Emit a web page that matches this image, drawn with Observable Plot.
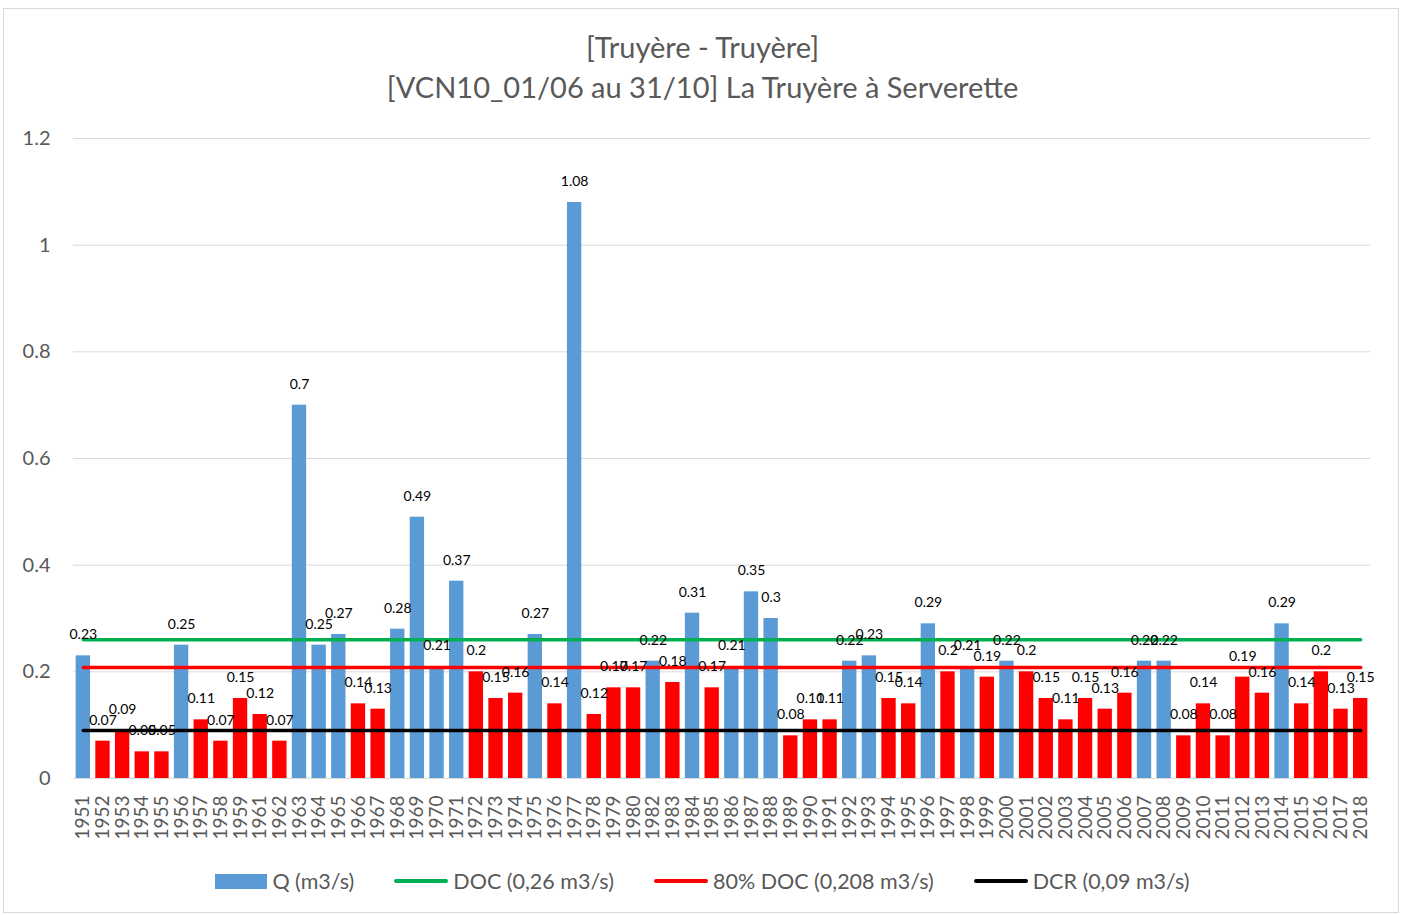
<!DOCTYPE html>
<html>
<head>
<meta charset="utf-8">
<script src="https://cdn.jsdelivr.net/npm/d3@7"></script>
<script src="https://cdn.jsdelivr.net/npm/@observablehq/plot@0.6"></script>
<style>
  html, body { margin: 0; padding: 0; background: #fff; }
  body { width: 1405px; height: 915px; position: relative; font-family: Lato, "Open Sans", sans-serif; color: #595959; overflow: hidden; }
  #frame { position: absolute; left: 3px; top: 8px; width: 1394px; height: 903px; border: 1px solid #d9d9d9; pointer-events: none; }
  #title { height: 110px; box-sizing: border-box; padding-top: 27px; text-align: center; font-size: 29px; line-height: 40px; color: #595959; }
  #chart svg { display: block; }
  #legend { height: 62px; display: flex; justify-content: center; align-items: center; font-size: 21.5px; color: #595959; }
  .item { display: flex; align-items: center; margin: 0 20px; }
  .sw { display: inline-block; margin-right: 5px; }
</style>
</head>
<body>
<div id="title"><div>[Truyère - Truyère]</div><div>[VCN10_01/06 au 31/10] La Truyère à Serverette</div></div>
<div id="chart"></div>
<div id="legend"></div>
<div id="frame"></div>
<script>
const years = ["1951","1952","1953","1954","1955","1956","1957","1958","1959","1961","1962","1963","1964","1965","1966","1967","1968","1969","1970","1971","1972","1973","1974","1975","1976","1977","1978","1979","1980","1982","1983","1984","1985","1986","1987","1988","1989","1990","1991","1992","1993","1994","1995","1996","1997","1998","1999","2000","2001","2002","2003","2004","2005","2006","2007","2008","2009","2010","2011","2012","2013","2014","2015","2016","2017","2018"];
const flow = [0.23,0.07,0.09,0.05,0.05,0.25,0.11,0.07,0.15,0.12,0.07,0.7,0.25,0.27,0.14,0.13,0.28,0.49,0.21,0.37,0.2,0.15,0.16,0.27,0.14,1.08,0.12,0.17,0.17,0.22,0.18,0.31,0.17,0.21,0.35,0.3,0.08,0.11,0.11,0.22,0.23,0.15,0.14,0.29,0.2,0.21,0.19,0.22,0.2,0.15,0.11,0.15,0.13,0.16,0.22,0.22,0.08,0.14,0.08,0.19,0.16,0.29,0.14,0.2,0.13,0.15];
const DOC = 0.26;
const DOC80 = 0.208;
const DCR = 0.09;
const yTicks = [0, 0.2, 0.4, 0.6, 0.8, 1, 1.2];
const seriesNames = ["Q (m3/s)", "DOC (0,26 m3/s)", "80% DOC (0,208 m3/s)", "DCR (0,09 m3/s)"];

const BLUE = "#5b9bd5", RED = "#ff0000", GREEN = "#00b050", BLACK = "#000000";
const rows = years.map((y, i) => ({year: y, q: flow[i]}));

const chart = Plot.plot({
  width: 1405,
  height: 740,
  marginLeft: 73,
  marginRight: 35,
  marginTop: 28,
  marginBottom: 72,
  style: {fontFamily: "Lato, 'Open Sans', sans-serif", fontSize: "19px", color: "#595959", background: "transparent"},
  x: {domain: years, paddingInner: 0.27, paddingOuter: 0.135, align: 0.5},
  y: {domain: [0, 1.2]},
  marks: [
    Plot.ruleY(yTicks, {stroke: "#d9d9d9", strokeWidth: 1}),
    Plot.barY(rows, {x: "year", y: "q", fill: d => d.q >= DOC80 ? BLUE : RED}),
    Plot.line(rows, {x: "year", y: () => DOC, stroke: GREEN, strokeWidth: 3.5}),
    Plot.line(rows, {x: "year", y: () => DOC80, stroke: RED, strokeWidth: 3.5}),
    Plot.line(rows, {x: "year", y: () => DCR, stroke: BLACK, strokeWidth: 3.5}),
    Plot.text(rows, {x: "year", y: "q", text: d => String(d.q), dy: -21, fill: "#000", fontSize: 14}),
    Plot.axisY({ticks: yTicks, tickSize: 0, tickPadding: 23, tickFormat: d => String(d), label: null, fontSize: 20}),
    Plot.axisX({tickSize: 0, tickPadding: 17, tickRotate: -90, label: null, fontSize: 19})
  ]
});
document.getElementById("chart").appendChild(chart);

const legend = document.getElementById("legend");
const swatches = [
  {name: seriesNames[0], kind: "rect", color: BLUE},
  {name: seriesNames[1], kind: "line", color: GREEN},
  {name: seriesNames[2], kind: "line", color: RED},
  {name: seriesNames[3], kind: "line", color: BLACK}
];
swatches.forEach(s => {
  const it = document.createElement("div");
  it.className = "item";
  const sw = document.createElement("span");
  sw.className = "sw";
  if (s.kind === "rect") { sw.style.width = "52px"; sw.style.height = "15px"; sw.style.background = s.color; }
  else { sw.style.width = "54px"; sw.style.height = "4px"; sw.style.background = s.color; sw.style.borderRadius = "2px"; }
  const t = document.createElement("span");
  t.textContent = s.name;
  it.appendChild(sw); it.appendChild(t);
  legend.appendChild(it);
});
</script>
</body>
</html>
